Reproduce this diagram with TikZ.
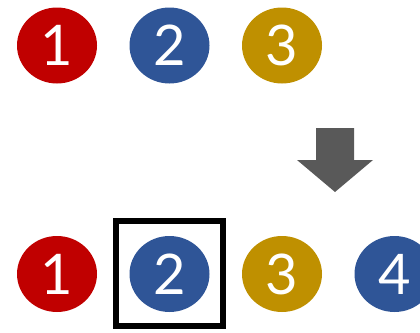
\documentclass[tikz,border=0pt]{standalone}
\usepackage{fontspec}
\setsansfont{Lato}
\usepackage{xcolor}
\usetikzlibrary{shapes.geometric,positioning}

\definecolor{numred}{HTML}{C00000}
\definecolor{numblue}{HTML}{2F5597}
\definecolor{numgold}{HTML}{BF9000}
\definecolor{arrowgray}{HTML}{595959}

\begin{document}
\begin{tikzpicture}[x=1pt, y=-1pt,
        ball/.style={ellipse, minimum width=80pt, minimum height=76pt, inner sep=0pt, text=white, font=\sffamily\fontsize{56}{56}\selectfont},
        redball/.style={ball, fill=numred},
        blueball/.style={ball, fill=numblue},
        goldball/.style={ball, fill=numgold},
        markbox/.style={rectangle, draw=black, line width=6pt, minimum width=107pt, minimum height=105pt, inner sep=0pt}
    ]
    \useasboundingbox (0,0) rectangle (420,332);

    % === Top row ===
    \node[redball] (t1) at (57, 45.5) {1};
    \node[blueball] (t2) at (169.5, 45.5) {2};
    \node[goldball] (t3) at (282, 45.5) {3};

    % === Down arrow ===
    \fill[arrowgray] (316,128) -- (354,128) -- (354,160) -- (373,160) -- (335,192) -- (297,160) -- (316,160) -- cycle;

    % === Bottom row ===
    \node[redball] (b1) at (57, 274) {1};
    \node[blueball] (b2) at (169.5, 274) {2};
    \node[goldball] (b3) at (282, 274) {3};
    \node[blueball] (b4) at (394.5, 274) {4};

    % Box round the picked one
    \node[markbox] (pick) at (169.5, 273.5) {};

\end{tikzpicture}
\end{document}
